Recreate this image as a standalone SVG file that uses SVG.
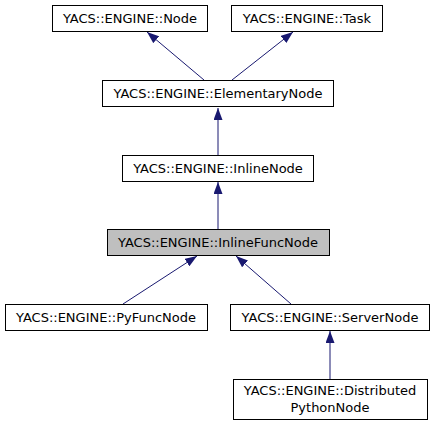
<svg xmlns="http://www.w3.org/2000/svg" width="434" height="425" viewBox="0 0 434 425">
<style>
.n rect{fill:#fff;stroke:#000;stroke-width:1}
.n.h rect{fill:#bfbfbf}
text{font-family:"DejaVu Sans",sans-serif;font-size:13px;text-anchor:middle;fill:#000}
.e{stroke:#191970;stroke-width:1;fill:none}
</style>
<defs>
<marker id="a" viewBox="0 0 12 9" refX="12" refY="4.5" markerWidth="12" markerHeight="9" markerUnits="userSpaceOnUse" orient="auto">
<path d="M0,0L12,4.5L0,9z" fill="#191970"/>
</marker>
</defs>
<rect width="434" height="425" fill="#fff"/>
<g id="edges">
<path class="e" d="M204,80L147,32" marker-end="url(#a)"/>
<path class="e" d="M232,80L293,32" marker-end="url(#a)"/>
<path class="e" d="M218,155L218,108" marker-end="url(#a)"/>
<path class="e" d="M218,229L218,182" marker-end="url(#a)"/>
<path class="e" d="M123,304L197,256" marker-end="url(#a)"/>
<path class="e" d="M291,304L236,256" marker-end="url(#a)"/>
<path class="e" d="M330,379L330,331" marker-end="url(#a)"/>
</g>
<g id="node" class="n"><rect x="52.5" y="5.5" width="155" height="26"/><text x="130" y="23">YACS::ENGINE::Node</text></g>
<g id="task" class="n"><rect x="231.5" y="5.5" width="151" height="26"/><text x="307" y="23">YACS::ENGINE::Task</text></g>
<g id="elementary" class="n"><rect x="102.5" y="80.5" width="231" height="26"/><text x="218" y="98">YACS::ENGINE::ElementaryNode</text></g>
<g id="inline" class="n"><rect x="122.5" y="155.5" width="191" height="26"/><text x="218" y="173">YACS::ENGINE::InlineNode</text></g>
<g id="inlinefunc" class="n h"><rect x="107.5" y="229.5" width="222" height="26"/><text x="218" y="247">YACS::ENGINE::InlineFuncNode</text></g>
<g id="pyfunc" class="n"><rect x="5.5" y="304.5" width="202" height="26"/><text x="106" y="322">YACS::ENGINE::PyFuncNode</text></g>
<g id="server" class="n"><rect x="230.5" y="304.5" width="199" height="26"/><text x="330" y="322">YACS::ENGINE::ServerNode</text></g>
<g id="distributed" class="n"><rect x="233.5" y="379.5" width="194" height="40"/><text x="330" y="395">YACS::ENGINE::Distributed</text><text x="330" y="412">PythonNode</text></g>
</svg>
